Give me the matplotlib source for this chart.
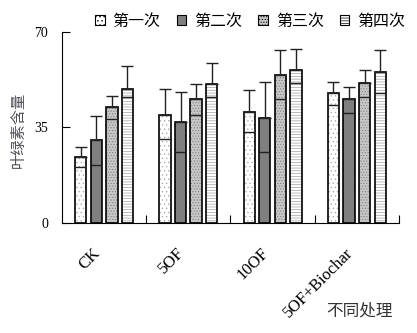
import matplotlib.pyplot as plt
import matplotlib.transforms as mtransforms
import numpy as np

plt.rcParams['font.family'] = ['Liberation Serif', 'Noto Sans CJK SC']
plt.rcParams['hatch.linewidth'] = 0.5

groups = ['CK', '5OF', '10OF', '5OF+Biochar']
series = ['第一次', '第二次', '第三次', '第四次']

# chlorophyll means per treatment, one list per sampling
first = [24.1, 39.4, 40.5, 47.5]
second = [30.4, 36.8, 38.3, 45.3]
third = [42.4, 45.3, 54.1, 51.2]
fourth = [49.0, 50.9, 55.9, 55.2]

# error bar ends (upper, lower)
first_hi = [27.7, 49.0, 48.6, 51.5]
first_lo = [20.4, 30.7, 33.2, 43.1]
second_hi = [39.0, 48.0, 51.5, 49.9]
second_lo = [21.1, 25.8, 25.8, 40.2]
third_hi = [46.4, 50.8, 63.3, 55.9]
third_lo = [38.1, 39.4, 45.3, 46.0]
fourth_hi = [57.4, 58.5, 63.7, 63.3]
fourth_lo = [46.0, 46.0, 51.3, 47.5]

vals = [first, second, third, fourth]
his = [first_hi, second_hi, third_hi, fourth_hi]
los = [first_lo, second_lo, third_lo, fourth_lo]

faces = ['white', '#7f7f7f', '#c8c8c8', 'white']
hatches = ['....', None, '......', '------']
hatch_cols = ['#b0b0b0', None, '#808080', '#a0a0a0']

fig = plt.figure(figsize=(4.17, 3.33), dpi=100)
ax = fig.add_axes([0.1487, 0.331, 0.808, 0.573])

x = np.arange(len(groups))
w = 0.135
step = 0.185
handles = []
for i in range(4):
    xs = x + (i - 1.5) * step
    v = np.array(vals[i])
    if hatches[i]:
        ax.bar(xs, v, w, color=faces[i], hatch=hatches[i],
               edgecolor=hatch_cols[i], linewidth=0, zorder=2)
    else:
        ax.bar(xs, v, w, color=faces[i], linewidth=0, zorder=2)
    ax.bar(xs, v, w, fill=False, edgecolor='black', linewidth=1.2, zorder=3)
    up = np.array(his[i]) - v
    ax.errorbar(xs, v, yerr=[np.zeros(4), up], fmt='none', ecolor='#222222',
                elinewidth=1, capsize=4, capthick=1, zorder=4)
    ax.hlines(los[i], xs - w / 2, xs + w / 2, color='#222222', linewidth=1, zorder=4)
    h = plt.Rectangle((0, 0), 1, 1, facecolor=faces[i], edgecolor='black',
                      linewidth=0.8, hatch=hatches[i])
    handles.append(h)

ax.set_xlim(-0.5, 3.5)
ax.set_ylim(0, 70)
ax.set_yticks([0, 35, 70])
ax.tick_params(axis='y', direction='in', length=6, labelsize=10, pad=10)
ax.set_xticks([0.5, 1.5, 2.5, 3.5])
ax.set_xticklabels([])
ax.tick_params(axis='x', which='major', direction='in', length=6)
ax.set_xticks(x, minor=True)
ax.set_xticklabels(groups, minor=True, rotation=45, ha='right',
                   va='center', rotation_mode='anchor', fontsize=12)
ax.tick_params(axis='x', which='minor', length=0, pad=20)
shift = mtransforms.ScaledTranslation(-6 / 100, 0, fig.dpi_scale_trans)
for lab in ax.get_xticklabels(minor=True):
    lab.set_transform(lab.get_transform() + shift)
for s in ['top', 'right']:
    ax.spines[s].set_visible(False)

fig.text(0.043, 0.61, '叶绿素含量', rotation=90, ha='center', va='center',
         fontsize=11, color='#505058', family=['Noto Sans CJK SC'])
fig.text(0.943, 0.066, '不同处理', ha='right', va='center', fontsize=12,
         family=['Noto Sans CJK SC'], color='#333333')

fig.legend(handles, series, loc='upper center', bbox_to_anchor=(0.6, 1.005),
           ncol=4, frameon=False, handlelength=0.6, handleheight=0.6,
           handletextpad=0.5, columnspacing=1.0,
           prop={'family': 'Noto Sans CJK SC', 'size': 11.5})

fig.savefig('out.png', dpi=100)
